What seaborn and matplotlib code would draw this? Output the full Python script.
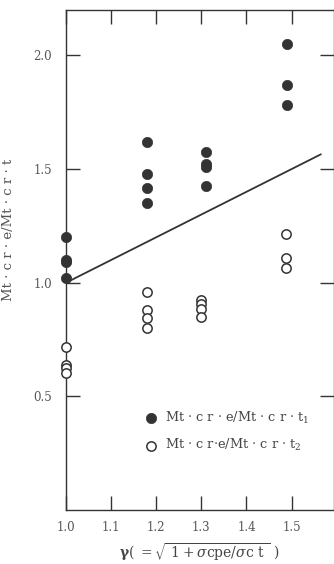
import matplotlib
matplotlib.use("Agg")
import matplotlib.pyplot as plt
import seaborn as sns
import pandas as pd

# --- data ---
gamma_t1 = [1.0, 1.0, 1.0, 1.0, 1.18, 1.18, 1.18, 1.18, 1.31, 1.31, 1.31, 1.31, 1.49, 1.49, 1.49]
ratio_t1 = [1.20, 1.10, 1.09, 1.02, 1.62, 1.48, 1.415, 1.35, 1.577, 1.524, 1.51, 1.427, 2.05, 1.868, 1.784]
gamma_t2 = [1.0, 1.0, 1.0, 1.0, 1.18, 1.18, 1.18, 1.18, 1.30, 1.30, 1.30, 1.30, 1.487, 1.487, 1.487]
ratio_t2 = [0.718, 0.639, 0.625, 0.604, 0.96, 0.88, 0.846, 0.80, 0.925, 0.905, 0.885, 0.85, 1.215, 1.11, 1.063]
line_x = [1.0, 1.565]
line_y = [1.0, 1.565]
label_t1 = "Mt · c r · e/Mt · c r · t$_1$"
label_t2 = "Mt · c r·e/Mt · c r · t$_2$"
x_ticks = [1.0, 1.1, 1.2, 1.3, 1.4, 1.5]
y_ticks = [0.5, 1.0, 1.5, 2.0]

df = pd.DataFrame({
    "gamma": gamma_t1 + gamma_t2,
    "ratio": ratio_t1 + ratio_t2,
    "series": [label_t1] * len(gamma_t1) + [label_t2] * len(gamma_t2),
})

sns.set_style("ticks")
plt.rcParams["font.family"] = ["DejaVu Serif"]
plt.rcParams["mathtext.fontset"] = "dejavuserif"
ink = "#333333"

fig = plt.figure(figsize=(3.34, 5.64), dpi=100)
ax = fig.add_axes([66 / 334, 54 / 564, 267.5 / 334, 500 / 564])

d1 = df[df.series == label_t1]
d2 = df[df.series == label_t2]
sns.scatterplot(data=d1, x="gamma", y="ratio", ax=ax, s=55, color=ink,
                edgecolor=ink, linewidth=0.5, label=label_t1, zorder=3, clip_on=False)
sns.scatterplot(data=d2, x="gamma", y="ratio", ax=ax, s=45, facecolor="white",
                edgecolor=ink, linewidth=1.1, label=label_t2, zorder=3, clip_on=False)
sns.lineplot(x=line_x, y=line_y, ax=ax, color=ink, linewidth=1.3, zorder=2)

ax.set_xlim(1.0, 1.593)
ax.set_ylim(0.0, 2.2)
ax.set_xticks(x_ticks)
ax.set_xticklabels([f"{v:.1f}" for v in x_ticks])
ax.set_yticks(y_ticks)
ax.set_yticklabels([f"{v:.1f}" for v in y_ticks])
ax.tick_params(direction="in", length=10, width=1.0, color=ink, labelcolor="#555555",
               labelsize=8.5, top=True, right=True, pad=8)
ax.tick_params(axis="y", pad=10)
for sp in ax.spines.values():
    sp.set_visible(True)
    sp.set_color(ink)
    sp.set_linewidth(1.0)

ax.set_ylabel("Mt · c r · e/Mt · c r · t", fontsize=9.5, color="#555555")
ax.yaxis.set_label_coords(-0.19, 0.56)
ax.set_xlabel(r"$\mathbf{\gamma}$( $=\sqrt{\ 1+\sigma\mathrm{cpe}/\sigma\mathrm{c\ t}\ }$ )",
              fontsize=10, color="#444444", labelpad=5)

leg = ax.legend(loc="center left", bbox_to_anchor=(0.27, 0.157), frameon=False,
                fontsize=9.3, handletextpad=0.5, labelspacing=0.9,
                markerscale=1.0, handlelength=1.2, borderaxespad=0)
for t in leg.get_texts():
    t.set_color("#444444")

fig.savefig("out.png", dpi=100)
